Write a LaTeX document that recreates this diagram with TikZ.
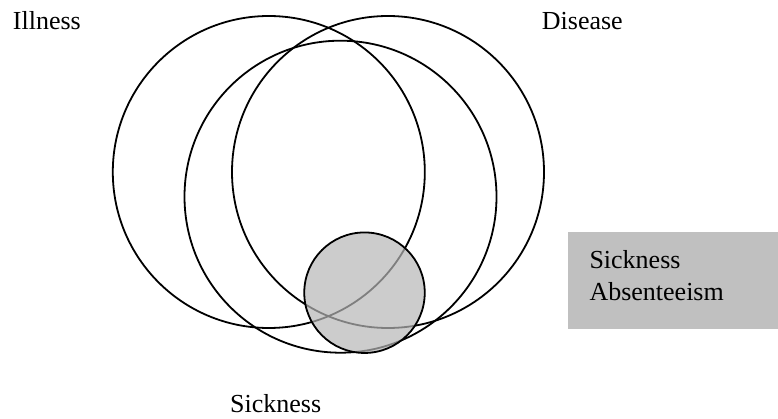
\documentclass[tikz,border=0pt]{standalone}
\usepackage{fontspec}
\setmainfont{Liberation Serif}
\begin{document}
\begin{tikzpicture}[x=1pt,y=-1pt,
  ring/.style={circle,draw=black,line width=1.8pt,minimum size=312pt,inner sep=0pt},
  lbl/.style={anchor=base west,inner sep=0pt,font=\fontsize{26}{32}\selectfont}]
\useasboundingbox (0,0) rectangle (778,419);
\node[ring] (illness) at (268.8,172) {};
\node[ring] (disease) at (388,172) {};
\node[ring] (sickness) at (340.5,196.7) {};
\node[circle,draw=black,line width=1.8pt,fill={rgb,255:red,182;green,182;blue,182},fill opacity=0.7,minimum size=120.5pt,inner sep=0pt] (absent) at (364.5,292.7) {};
\fill[fill={rgb,255:red,192;green,192;blue,192}] (567.7,231.7) rectangle (778,329.3);
\node[lbl] (tIll) at (12.7,29.3) {Illness};
\node[lbl] (tDis) at (541.7,29.3) {Disease};
\node[lbl] (tSick) at (230,412.7) {Sickness};
\node[lbl] (tBox1) at (589.3,268.3) {Sickness};
\node[lbl] (tBox2) at (589.3,300) {Absenteeism};
\end{tikzpicture}
\end{document}
